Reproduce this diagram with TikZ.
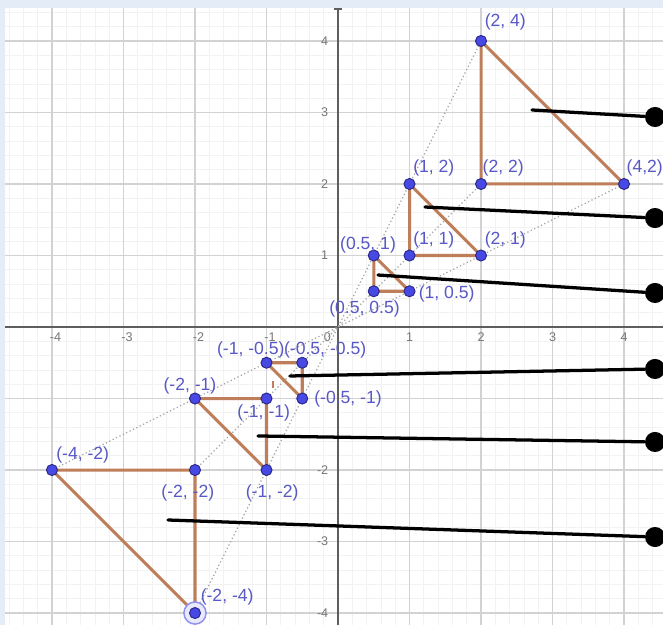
\documentclass[tikz,border=0pt]{standalone}
\usepackage{fontspec}
\setmainfont{Liberation Sans}
\usetikzlibrary{arrows.meta,calc,positioning}
\definecolor{ggpoint}{HTML}{4848E4}
\definecolor{ggrim}{HTML}{2A2A8A}
\definecolor{gglabel}{HTML}{5858C6}
\definecolor{ggside}{HTML}{BF7E5A}
\definecolor{ggaxis}{HTML}{5E5E5E}
\definecolor{ggframe}{HTML}{E4ECF8}
\pgfdeclarelayer{back}
\pgfsetlayers{back,main}

\begin{document}
\begin{tikzpicture}[line cap=round,line join=round,
  vtx/.style={circle,inner sep=0pt,minimum size=4.4pt,fill=ggpoint,draw=ggrim,line width=.4pt},
  lbl/.style={text=gglabel,inner sep=0pt,font=\fontsize{7}{8}\selectfont},
  axlbl/.style={text=ggaxis!85,inner sep=0pt,font=\fontsize{5}{6}\selectfont},
  side/.style={ggside,line width=1.2pt},
  ray/.style={gray!70,densely dotted,line width=.5pt},
  stick/.style={black,line width=1.3pt},
  knob/.style={circle,inner sep=0pt,minimum size=8pt,fill=black}]
\path[use as bounding box] (-4.727,-4.168) rectangle (4.545,4.573);

% grid, axes and axis numbers
\begin{pgfonlayer}{back}
  \fill[white] (-4.727,-4.168) rectangle (4.545,4.573);
  \draw[gray!10,line width=.3pt,step=.2] (-4.727,-4.168) grid (4.545,4.573);
  \draw[gray!35,line width=.5pt,step=1] (-4.727,-4.168) grid (4.545,4.573);
  \draw[ggaxis,line width=.6pt] (-4.727,0) -- (4.545,0);
  \draw[ggaxis,line width=.6pt] (0,-4.168) -- (0,4.45);
  \draw[ggaxis,line width=.6pt] (-.05,4.45) -- (.05,4.45);
  \foreach \x in {1,2,3,4} \node[axlbl,anchor=north] at (\x,-.07) {\x};
  \foreach \x in {-4,-3,-2,-1} \node[axlbl,anchor=north] at (\x+.05,-.07) {\x};
  \node[axlbl,anchor=north] at (-.15,-.07) {0};
  \foreach \y in {4,3,2,1,-2,-3,-4} \node[axlbl,anchor=east] at (-.13,\y) {\y};
\end{pgfonlayer}

% frame of the window
\fill[ggframe] (-4.727,4.46) rectangle (4.545,4.573);
\fill[ggframe] (-4.727,-4.168) rectangle (-4.66,4.573);

% points and their labels
\foreach \n/\x/\y/\dx/\dy/\t in {
    A1/2/4/.34/.27/{(2, 4)}, A2/2/2/.31/.22/{(2, 2)}, A3/4/2/.29/.22/{(4,2)},
    B1/1/2/.34/.22/{(1, 2)}, B2/1/1/.34/.22/{(1, 1)}, B3/2/1/.34/.22/{(2, 1)},
    C1/.5/1/-.08/.15/{(0.5, 1)}, C2/.5/.5/-.13/-.25/{(0.5, 0.5)}, C3/1/.5/.52/-.04/{(1, 0.5)},
    D1/-1/-.5/-.22/.18/{(-1, -0.5)}, D2/-.5/-.5/.32/.18/{(-0.5, -0.5)}, D3/-.5/-1/.64/0/{(-0.5, -1)},
    E1/-2/-1/-.07/.17/{(-2, -1)}, E2/-1/-1/-.04/-.2/{(-1, -1)}, E3/-1/-2/.08/-.32/{(-1, -2)},
    F1/-4/-2/.43/.21/{(-4, -2)}, F2/-2/-2/-.1/-.32/{(-2, -2)}, F3/-2/-4/.45/.22/{(-2, -4)}} {
  \node[vtx] (\n) at (\x,\y) {};
  \node[lbl] (l\n) at ($(\n)+(\dx,\dy)$) {\t};
}

% rays through the origin and the triangles
\begin{pgfonlayer}{back}
  \draw[ray] (F1.center) -- (A3.center);
  \draw[ray] (F3.center) -- (A1.center);
  \draw[ray] (F2.center) -- (A2.center);
  \foreach \t in {A,B,C,D,E,F}
    \draw[side] (\t1.center) -- (\t2.center) -- (\t3.center) -- cycle;
  \draw[ggside,line width=.6pt] (-.91,-.755) -- (-.91,-.85);
  \draw[ggpoint!60,line width=.6pt,fill=ggpoint!12] (F3) circle[radius=.155];
\end{pgfonlayer}

% pointer sticks
\foreach \i/\sx/\sy/\ey in {1/2.713/3.035/2.937, 2/1.217/1.678/1.524, 3/.559/.727/.476,
    4/-.671/-.685/-.587, 5/-1.119/-1.524/-1.608, 6/-2.378/-2.699/-2.937} {
  \coordinate (s\i) at (\sx,\sy);
  \node[knob] (k\i) at (4.434,\ey) {};
  \draw[stick] (s\i) -- (k\i);
}
\end{tikzpicture}
\end{document}
